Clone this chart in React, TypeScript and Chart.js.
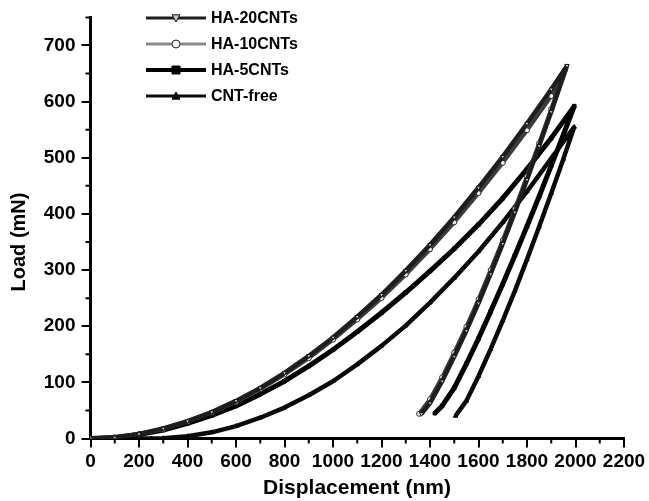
import { useEffect, useRef } from "react";
import { Chart, registerables } from "chart.js";

Chart.register(...registerables);

const seriesNames = ["HA-20CNTs", "HA-10CNTs", "HA-5CNTs", "CNT-free"];

const ha20Disp = [0, 100, 200, 300, 400, 500, 600, 700, 800, 900, 1000, 1100, 1200, 1300, 1400, 1500, 1600, 1700, 1800, 1900, 1965, 1900, 1850, 1800, 1750, 1700, 1650, 1600, 1550, 1500, 1450, 1400, 1365];
const ha20Load = [0, 2, 8, 18, 31, 47, 67, 90, 117, 147, 180, 217, 256, 299, 345, 394, 447, 502, 561, 622, 664, 582, 521, 461, 403, 347, 293, 241, 192, 146, 102, 63, 44];

const ha10Disp = [0, 100, 200, 300, 400, 500, 600, 700, 800, 900, 1000, 1100, 1200, 1300, 1400, 1500, 1600, 1700, 1800, 1900, 1955, 1900, 1850, 1800, 1750, 1700, 1650, 1600, 1550, 1500, 1450, 1400, 1355];
const ha10Load = [0, 2, 8, 17, 30, 46, 65, 88, 114, 143, 176, 212, 250, 292, 337, 385, 437, 491, 549, 610, 655, 587, 526, 467, 409, 353, 300, 248, 199, 153, 109, 70, 44];

const ha5Disp = [0, 100, 200, 300, 400, 500, 600, 700, 800, 900, 1000, 1100, 1200, 1300, 1400, 1500, 1600, 1700, 1800, 1900, 1995, 1950, 1900, 1850, 1800, 1750, 1700, 1650, 1600, 1550, 1500, 1450, 1420];
const ha5Load = [0, 2, 7, 15, 27, 41, 58, 79, 102, 129, 158, 190, 224, 260, 298, 338, 381, 428, 480, 535, 592, 541, 486, 431, 378, 326, 275, 226, 178, 133, 90, 58, 45];

const freeDisp = [0, 250, 300, 400, 500, 600, 700, 800, 900, 1000, 1100, 1200, 1300, 1400, 1500, 1600, 1700, 1800, 1900, 1995, 1950, 1900, 1850, 1800, 1750, 1700, 1650, 1600, 1550, 1505];
const freeLoad = [0, 0, 0.5, 4, 11, 22, 37, 55, 77, 102, 132, 165, 201, 242, 286, 333, 385, 440, 499, 555, 498, 437, 377, 319, 263, 210, 159, 111, 67, 40];

const xTicks = [0, 200, 400, 600, 800, 1000, 1200, 1400, 1600, 1800, 2000, 2200];
const yTicks = [0, 100, 200, 300, 400, 500, 600, 700];
const xMinor = [100, 300, 500, 700, 900, 1100, 1300, 1500, 1700, 1900, 2100];
const yMinor = [50, 150, 250, 350, 450, 550, 650, 750];

const xTitle = "Displacement (nm)";
const yTitle = "Load (mN)";

const FONT = "'Liberation Sans', Arial, sans-serif";

const zip = (xs: number[], ys: number[]) => xs.map((x, i) => ({ x, y: ys[i] }));

type Marker = "tri-down" | "circle" | "square" | "tri-up";
const markers: Marker[] = ["tri-down", "circle", "square", "tri-up"];

function drawMarker(ctx: CanvasRenderingContext2D, kind: Marker, x: number, y: number, r: number, fill: string, stroke: string) {
  ctx.save();
  ctx.fillStyle = fill;
  ctx.strokeStyle = stroke;
  ctx.lineWidth = 1;
  ctx.beginPath();
  if (kind === "circle") {
    ctx.arc(x, y, r, 0, Math.PI * 2);
  } else if (kind === "square") {
    ctx.rect(x - r, y - r, 2 * r, 2 * r);
  } else if (kind === "tri-down") {
    ctx.moveTo(x - r, y - r * 0.8);
    ctx.lineTo(x + r, y - r * 0.8);
    ctx.lineTo(x, y + r);
    ctx.closePath();
  } else {
    ctx.moveTo(x - r, y + r * 0.8);
    ctx.lineTo(x + r, y + r * 0.8);
    ctx.lineTo(x, y - r);
    ctx.closePath();
  }
  ctx.fill();
  ctx.stroke();
  ctx.restore();
}

const minorTicksPlugin = {
  id: "minorTicks",
  afterDraw(chart: any) {
    const ctx = chart.ctx as CanvasRenderingContext2D;
    const xs = chart.scales.x;
    const ys = chart.scales.y;
    const area = chart.chartArea;
    ctx.save();
    ctx.strokeStyle = "#000";
    ctx.lineWidth = 2;
    ctx.beginPath();
    xMinor.forEach((v) => {
      const px = xs.getPixelForValue(v);
      ctx.moveTo(px, area.bottom);
      ctx.lineTo(px, area.bottom + 5);
    });
    yMinor.forEach((v) => {
      const py = ys.getPixelForValue(v);
      ctx.moveTo(area.left, py);
      ctx.lineTo(area.left - 5, py);
    });
    ctx.stroke();
    ctx.restore();
  },
};

const titlesPlugin = {
  id: "axisTitles",
  afterDraw(chart: any) {
    const ctx = chart.ctx as CanvasRenderingContext2D;
    ctx.save();
    ctx.fillStyle = "#000";
    ctx.font = `bold 21px ${FONT}`;
    ctx.textAlign = "center";
    ctx.textBaseline = "middle";
    ctx.fillText(xTitle, 357, 488);
    ctx.translate(19, 242);
    ctx.rotate(-Math.PI / 2);
    ctx.font = `bold 20px ${FONT}`;
    ctx.fillText(yTitle, 0, 0);
    ctx.restore();
  },
};

const legendPlugin = {
  id: "customLegend",
  afterDraw(chart: any) {
    const ctx = chart.ctx as CanvasRenderingContext2D;
    chart.data.datasets.forEach((ds: any, i: number) => {
      const y = 18 + i * 26;
      ctx.save();
      ctx.strokeStyle = i === 1 ? "#8a8a8a" : ds.borderColor;
      ctx.lineWidth = i === 2 ? 4 : 3;
      ctx.beginPath();
      ctx.moveTo(146, y);
      ctx.lineTo(206, y);
      ctx.stroke();
      drawMarker(ctx, markers[i], 176, y, 4, ds.pointBackgroundColor, ds.pointBorderColor);
      ctx.fillStyle = "#000";
      ctx.font = `bold 16px ${FONT}`;
      ctx.textBaseline = "middle";
      ctx.textAlign = "left";
      ctx.fillText(seriesNames[i], 211, y + 1);
      ctx.restore();
    });
  },
};

export default function App() {
  const ref = useRef<HTMLCanvasElement | null>(null);
  useEffect(() => {
    if (!ref.current) return;
    const mk = (i: number, xs: number[], ys: number[], color: string, width: number, pFill: string, pStroke: string, style: any, rot: number) => ({
      label: seriesNames[i],
      data: zip(xs, ys),
      showLine: true,
      borderColor: color,
      borderWidth: width,
      borderJoinStyle: "bevel",
      borderCapStyle: "butt",
      pointStyle: style,
      pointRotation: rot,
      pointRadius: 2.5,
      pointBackgroundColor: pFill,
      pointBorderColor: pStroke,
      pointBorderWidth: 1,
      tension: 0,
    });
    const tickFont = { family: FONT, size: 19, weight: "bold" };
    const chart = new Chart(ref.current, {
      type: "scatter",
      data: {
        datasets: [
          mk(0, ha20Disp, ha20Load, "#1e1e1e", 4.5, "#c8c8c8", "#111111", "triangle", 180),
          mk(1, ha10Disp, ha10Load, "#3c3c3c", 4, "#f0f0f0", "#2a2a2a", "circle", 0),
          mk(2, ha5Disp, ha5Load, "#000000", 5, "#000000", "#000000", "rect", 0),
          mk(3, freeDisp, freeLoad, "#0a0a0a", 4.5, "#0a0a0a", "#0a0a0a", "triangle", 0),
        ] as any,
      },
      options: {
        animation: false,
        responsive: false,
        maintainAspectRatio: false,
        layout: { padding: { top: 10.5, right: 25, left: 0, bottom: 0 } },
        plugins: { legend: { display: false }, tooltip: { enabled: false } },
        scales: {
          x: {
            type: "linear",
            min: 0,
            max: 2200,
            afterBuildTicks: (s: any) => {
              s.ticks = xTicks.map((v) => ({ value: v }));
            },
            afterFit: (s: any) => {
              s.height = 62.5;
            },
            ticks: {
              color: "#000",
              font: tickFont,
              padding: 3,
              maxRotation: 0,
              autoSkip: false,
              callback: (v: any) => String(v),
            },
            grid: { drawOnChartArea: false, color: "#000", lineWidth: 2, tickLength: 9 },
            border: { color: "#000", width: 3 },
          },
          y: {
            type: "linear",
            min: 0,
            max: 750,
            afterBuildTicks: (s: any) => {
              s.ticks = yTicks.map((v) => ({ value: v }));
            },
            afterFit: (s: any) => {
              s.width = 90.5;
            },
            ticks: {
              color: "#000",
              font: tickFont,
              padding: 6,
              autoSkip: false,
              callback: (v: any) => String(v),
            },
            grid: { drawOnChartArea: false, color: "#000", lineWidth: 2, tickLength: 9 },
            border: { color: "#000", width: 3 },
          },
        },
      } as any,
      plugins: [minorTicksPlugin, legendPlugin, titlesPlugin],
    });
    return () => chart.destroy();
  }, []);
  return (
    <div style={{ position: "absolute", left: 0, top: 0, width: 649, height: 501, background: "#fff" }}>
      <canvas ref={ref} width={649} height={501} style={{ width: 649, height: 501 }} />
    </div>
  );
}
